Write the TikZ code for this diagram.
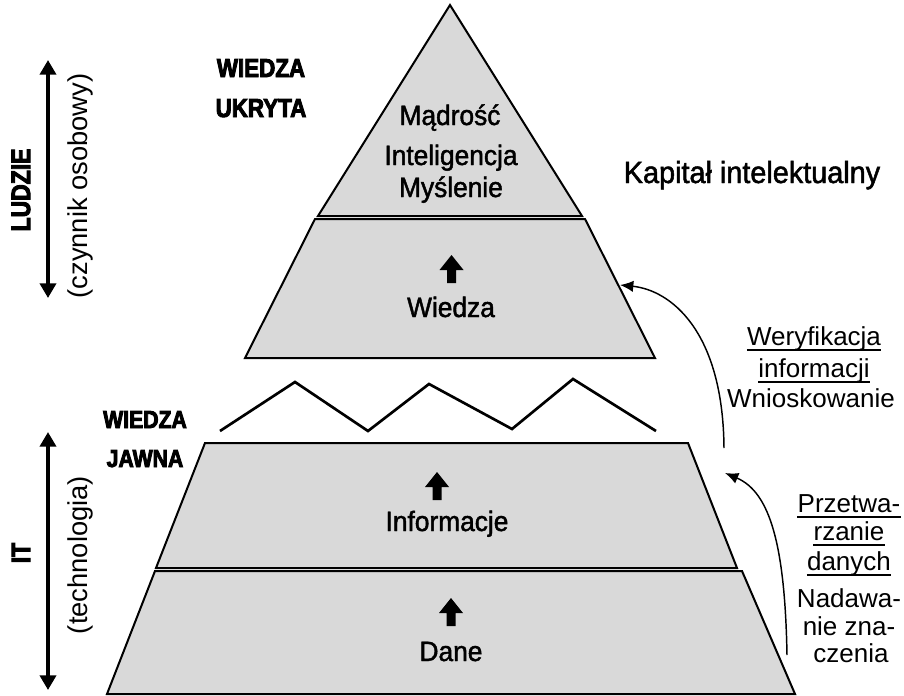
\documentclass[tikz,border=0pt]{standalone}
\usepackage{fontspec}
\setmainfont{Liberation Sans}
\newfontfamily\heavyfont{Liberation Sans Bold}[FakeBold=3.5, FakeStretch=0.86]
\newfontfamily\midfont{Liberation Sans}[FakeBold=1.6, FakeStretch=0.94]
\usetikzlibrary{arrows.meta}
\definecolor{pyrfill}{RGB}{217,217,217}
\tikzset{
  layer/.style={draw=black, line width=1.5pt, fill=pyrfill, line join=miter},
  lbl/.style={font=\midfont\fontsize{21}{24}\selectfont, inner sep=0pt, anchor=base},
  caplbl/.style={font=\midfont\fontsize{23}{26}\selectfont, inner sep=0pt, anchor=base},
  side/.style={font=\fontsize{19.5}{22}\selectfont, inner sep=0pt, anchor=base},
  heavy/.style={font=\heavyfont\fontsize{19.5}{22}\selectfont, inner sep=0pt, anchor=base},
  heavysm/.style={font=\heavyfont\fontsize{18.5}{21}\selectfont, inner sep=0pt, anchor=base},
  rotheavy/.style={font=\heavyfont\fontsize{20}{22}\selectfont, inner sep=0pt, rotate=90},
  rotlbl/.style={font=\fontsize{20.5}{24}\selectfont, inner sep=0pt, rotate=90},
  uline/.style={line width=1.1pt},
  flow/.style={line width=1.1pt, -{Latex[length=10pt,width=8.5pt]}},
  span/.style={line width=3pt, {Triangle[length=11pt,width=12pt]}-{Triangle[length=11pt,width=12pt]}},
  zig/.style={line width=2pt, line join=miter},
  pics/uparrow/.style={code={
    \fill (0,0) -- (12,15) -- (4.5,15) -- (4.5,28) -- (-4.5,28) -- (-4.5,15) -- (-12,15) -- cycle;
  }}
}
\begin{document}
\begin{tikzpicture}[x=0.75pt,y=-0.75pt]
\useasboundingbox (0,0) rectangle (904,696);
\fill[white] (0,0) rectangle (904,696);

% pyramid layers
\draw[layer] (107,694) -- (795,694) -- (742,571) -- (155,571) -- cycle;
\draw[layer] (156,568) -- (737,568) -- (688,443) -- (205,443) -- cycle;
\draw[layer] (245,358) -- (655,358) -- (585,219) -- (315,219) -- cycle;
\draw[layer] (318,216) -- (582,216) -- (450,5) -- cycle;

% broken edge between the two parts
\draw[zig] (220,431) -- (295,382) -- (368,431) -- (429,384) -- (512,429) -- (573,379) -- (656,431);

% labels inside the pyramid
\node[lbl] (madrosc) at (450,125) {Mądrość};
\node[lbl] (intel) at (451,165) {Inteligencja};
\node[lbl] (myslenie) at (451,197) {Myślenie};
\node[lbl] (wiedza) at (451,317) {Wiedza};
\node[lbl] (informacje) at (447,531) {Informacje};
\node[lbl] (dane) at (451,661) {Dane};

\pic at (451.5,255) {uparrow};
\pic at (437,472) {uparrow};
\pic at (451,598) {uparrow};

% heading on the right
\node[caplbl] (kapital) at (752,183) {Kapitał intelektualny};

% knowledge kinds
\node[heavy] (wukr) at (261,77) {WIEDZA};
\node[heavy] (ukryta) at (261,117) {UKRYTA};
\node[heavysm] (wjaw) at (145,428) {WIEDZA};
\node[heavysm] (jawna) at (145,467) {JAWNA};

% side scales
\coordinate (s1t) at (48,60);
\coordinate (s1b) at (48,298);
\coordinate (s2t) at (48,432);
\coordinate (s2b) at (48,690);
\draw[span] (s1b) -- (s1t);
\draw[span] (s2b) -- (s2t);
\node[rotheavy] (ludzie) at (21,190) {LUDZIE};
\node[rotlbl] (czynnik) at (80,186) {(czynnik osobowy)};
\node[rotheavy] (it) at (21,553) {IT};
\node[rotlbl] (techno) at (80,555) {(technologia)};

% processes on the right
\node[side] (weryf) at (814,345) {Weryfikacja};
\node[side] (inform) at (814,377) {informacji};
\node[side] (wniosk) at (811,407) {Wnioskowanie};
\draw[uline] ([yshift=-3.8pt]weryf.base west) -- ([yshift=-3.8pt]weryf.base east);
\draw[uline] ([yshift=-3.8pt]inform.base west) -- ([yshift=-3.8pt]inform.base east);

\node[side] (przetwa) at (849,512) {Przetwa-};
\node[side] (rzanie) at (849,540) {rzanie};
\node[side] (danych) at (849,570) {danych};
\node[side] (nadawa) at (849,607) {Nadawa-};
\node[side] (niezna) at (849,635) {nie zna-};
\node[side] (czenia) at (851,662) {czenia};
\draw[uline] ([yshift=-3.8pt]przetwa.base west) -- ([yshift=-3.8pt]przetwa.base east);
\draw[uline] ([yshift=-3.8pt]rzanie.base west) -- ([yshift=-3.8pt]rzanie.base east);
\draw[uline] ([yshift=-3.8pt]danych.base west) -- ([yshift=-3.8pt]danych.base east);

% transitions between layers
\coordinate (a1s) at (724,448);
\coordinate (a1e) at (620,285);
\coordinate (a2s) at (787,655);
\coordinate (a2e) at (725,473);
\draw[flow] (a1s) .. controls (723,330) and (670,290) .. (a1e);
\draw[flow] (a2s) .. controls (785,545) and (770,492) .. (a2e);
\end{tikzpicture}
\end{document}
